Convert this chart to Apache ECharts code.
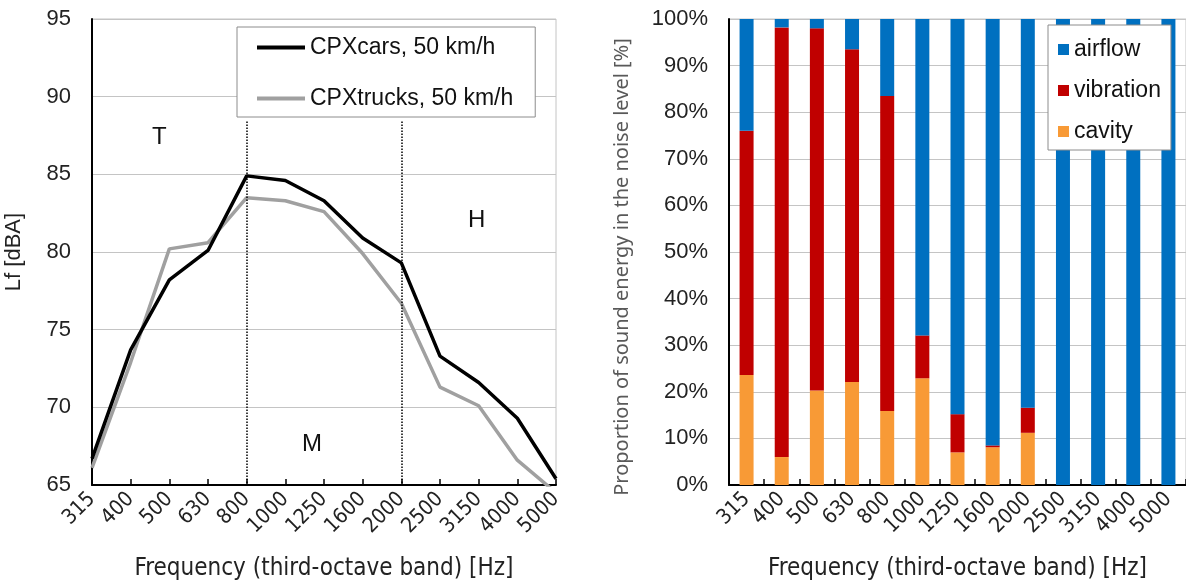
<!DOCTYPE html>
<html>
<head>
<meta charset="utf-8">
<script src="https://cdn.jsdelivr.net/npm/echarts@6/dist/echarts.min.js"></script>
<style>
  html, body { margin: 0; padding: 0; background: #fff; }
  #main { width: 1186px; height: 586px; }
</style>
</head>
<body>
<div id="main"></div>
<script>
// frequency bands (third-octave), shared by both panels
var freqs = ['315', '400', '500', '630', '800', '1000', '1250', '1600', '2000', '2500', '3150', '4000', '5000'];

// left panel: Lf [dBA]
var cpxCars   = [66.7, 73.7, 78.2, 80.1, 84.9, 84.6, 83.3, 80.9, 79.3, 73.3, 71.6, 69.3, 65.4];
var cpxTrucks = [66.1, 72.9, 80.2, 80.6, 83.5, 83.3, 82.6, 79.9, 76.7, 71.3, 70.1, 66.6, 64.5];
var lfTicks = { min: 65, max: 95, step: 5 };

// right panel: share of sound energy [%]
var cavity    = [23.6, 6.0, 20.3, 22.1, 15.9, 22.9, 7.0, 8.1, 11.2, 0, 0, 0, 0];
var vibration = [52.4, 92.2, 77.7, 71.4, 67.6, 9.2, 8.2, 0.4, 5.4, 0, 0, 0, 0];
var airflow   = [24.0, 1.8, 2.0, 6.5, 16.5, 67.9, 84.8, 91.5, 83.4, 100, 100, 100, 100];
var pctTicks = { min: 0, max: 100, step: 10 };

var myChart = echarts.init(document.getElementById('main'));

var tickFont = 'Liberation Sans';
var catFont = 'DejaVu Sans Condensed';

function xAxisCommon(idx, gap) {
    return {
        type: 'category',
        gridIndex: idx,
        data: freqs,
        boundaryGap: gap,
        name: 'Frequency (third-octave band) [Hz]',
        nameLocation: 'middle',
        nameGap: 72,
        nameTextStyle: { fontFamily: catFont, fontSize: 24, color: '#222' },
        axisLine: { lineStyle: { color: '#000', width: 2 } },
        axisTick: { show: true, inside: true, length: 6, alignWithLabel: !gap, lineStyle: { color: '#000', width: 1.5 } },
        axisLabel: { rotate: 45, interval: 0, fontFamily: catFont, fontSize: 21, color: '#222', margin: 11 },
        splitLine: { show: false }
    };
}

var option = {
    animation: false,
    grid: [
        { left: 92, top: 19, width: 464, height: 466, show: true, borderColor: '#c4c4c4', borderWidth: 1 },
        { left: 729, top: 19, right: 0, height: 466, show: true, borderColor: '#c4c4c4', borderWidth: 1 }
    ],
    legend: [
        {
            data: ['CPXcars, 50 km/h', 'CPXtrucks, 50 km/h'],
            orient: 'vertical',
            left: 237, top: 27,
            icon: 'rect', itemWidth: 48, itemHeight: 4,
            itemGap: 28,
            padding: [9, 22, 7, 20],
            borderColor: '#8c8c8c', borderWidth: 1,
            backgroundColor: '#fff',
            textStyle: { fontFamily: tickFont, fontSize: 23, color: '#111' }
        },
        {
            data: ['airflow', 'vibration', 'cavity'],
            orient: 'vertical',
            left: 1048, top: 25,
            icon: 'rect', itemWidth: 11, itemHeight: 11,
            itemGap: 18,
            padding: [13, 10, 7, 10],
            borderColor: '#8c8c8c', borderWidth: 1,
            backgroundColor: '#fff',
            textStyle: { fontFamily: tickFont, fontSize: 23, color: '#111' }
        }
    ],
    xAxis: [xAxisCommon(0, false), xAxisCommon(1, true)],
    yAxis: [
        {
            type: 'value', gridIndex: 0,
            min: lfTicks.min, max: lfTicks.max, interval: lfTicks.step,
            name: 'Lf [dBA]', nameLocation: 'middle', nameGap: 67,
            nameTextStyle: { fontFamily: tickFont, fontSize: 22, color: '#222' },
            axisLine: { show: true, lineStyle: { color: '#000', width: 2 } },
            axisTick: { show: false },
            axisLabel: { fontFamily: tickFont, fontSize: 22, color: '#222', margin: 21 },
            splitLine: { lineStyle: { color: '#c4c4c4', width: 1 } }
        },
        {
            type: 'value', gridIndex: 1,
            min: pctTicks.min, max: pctTicks.max, interval: pctTicks.step,
            name: 'Proportion of sound energy in the noise level [%]', nameLocation: 'middle', nameGap: 97,
            nameTextStyle: { fontFamily: 'Noto Sans', fontSize: 20, color: '#595959', padding: [0, 30, 0, 0] },
            axisLine: { show: true, lineStyle: { color: '#000', width: 2 } },
            axisTick: { show: false },
            axisLabel: { fontFamily: tickFont, fontSize: 22, color: '#222', formatter: '{value}%', margin: 21 },
            splitLine: { lineStyle: { color: '#c4c4c4', width: 1 } }
        }
    ],
    graphic: [
        { type: 'text', left: 152, top: 125, style: { text: 'T', font: '24px "Liberation Sans"', fill: '#111' } },
        { type: 'text', left: 302, top: 432, style: { text: 'M', font: '24px "Liberation Sans"', fill: '#111' } },
        { type: 'text', left: 468, top: 208, style: { text: 'H', font: '24px "Liberation Sans"', fill: '#111' } }
    ],
    series: [
        {
            name: 'CPXtrucks, 50 km/h', type: 'line',
            xAxisIndex: 0, yAxisIndex: 0,
            data: cpxTrucks, symbol: 'none',
            lineStyle: { color: '#a0a0a0', width: 3.5 },
            itemStyle: { color: '#a0a0a0' },
            clip: true
        },
        {
            name: 'CPXcars, 50 km/h', type: 'line',
            xAxisIndex: 0, yAxisIndex: 0,
            data: cpxCars, symbol: 'none', z: 3,
            lineStyle: { color: '#000', width: 3.5 },
            itemStyle: { color: '#000' },
            clip: true,
            markLine: {
                silent: true, symbol: 'none',
                label: { show: false },
                lineStyle: { color: '#000', type: 'dotted', width: 1.5 },
                data: [
                    [{ coord: ['800', 88.4] }, { coord: ['800', 65] }],
                    [{ coord: ['2000', 88.4] }, { coord: ['2000', 65] }]
                ]
            }
        },
        {
            name: 'cavity', type: 'bar', stack: 'share',
            xAxisIndex: 1, yAxisIndex: 1,
            data: cavity, barWidth: 14,
            itemStyle: { color: '#F89A36' }
        },
        {
            name: 'vibration', type: 'bar', stack: 'share',
            xAxisIndex: 1, yAxisIndex: 1,
            data: vibration, barWidth: 14,
            itemStyle: { color: '#C00000' }
        },
        {
            name: 'airflow', type: 'bar', stack: 'share',
            xAxisIndex: 1, yAxisIndex: 1,
            data: airflow, barWidth: 14,
            itemStyle: { color: '#0070C0' }
        }
    ]
};

myChart.setOption(option);
</script>
</body>
</html>
